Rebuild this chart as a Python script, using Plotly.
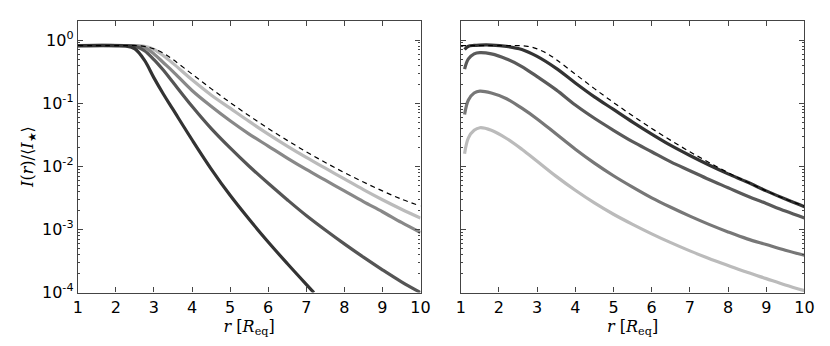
import plotly.graph_objects as go

# radius grids (R_eq) and log10 of I(r)/<I*>
r_left = [1, 2.0, 2.25, 2.5, 2.75, 3, 3.25, 3.5, 4, 4.5, 5, 5.5, 6, 6.5, 7, 7.2]
left_darkest = [-0.088, -0.088, -0.095, -0.14, -0.32, -0.6, -0.86, -1.1, -1.58, -2.04, -2.46, -2.84, -3.2, -3.54, -3.87, -4.0]

r_grid = [1, 2.3, 2.5, 2.75, 3, 3.25, 3.5, 4, 4.5, 5, 5.5, 6, 6.5, 7, 7.5, 8, 8.5, 9, 9.5, 10]
left_dark = [-0.088, -0.088, -0.1, -0.17, -0.31, -0.48, -0.67, -1.05, -1.4, -1.71, -2.0, -2.27, -2.53, -2.78, -3.01, -3.23, -3.44, -3.64, -3.83, -4.0]
left_mid = [-0.088, -0.088, -0.09, -0.12, -0.22, -0.36, -0.5, -0.8, -1.05, -1.28, -1.49, -1.68, -1.87, -2.05, -2.22, -2.39, -2.56, -2.72, -2.89, -3.05]
left_light = [-0.088, -0.088, -0.088, -0.1, -0.15, -0.25, -0.37, -0.63, -0.87, -1.08, -1.29, -1.49, -1.68, -1.86, -2.03, -2.2, -2.37, -2.53, -2.68, -2.82]
dashed = [-0.088, -0.088, -0.088, -0.1, -0.14, -0.21, -0.31, -0.54, -0.77, -0.99, -1.2, -1.4, -1.59, -1.77, -1.94, -2.1, -2.25, -2.39, -2.52, -2.63]

r_right = [1.1, 1.2, 1.35, 1.5, 1.8, 2.2, 2.6, 3, 3.5, 4, 4.5, 5, 5.5, 6, 6.5, 7, 7.5, 8, 8.5, 9, 9.5, 10]
right_darkest = [-0.15, -0.1, -0.085, -0.08, -0.08, -0.1, -0.15, -0.26, -0.45, -0.68, -0.9, -1.1, -1.3, -1.49, -1.67, -1.83, -1.98, -2.12, -2.25, -2.39, -2.52, -2.64]
right_dark = [-0.46, -0.3, -0.22, -0.2, -0.22, -0.3, -0.42, -0.58, -0.79, -1.03, -1.24, -1.43, -1.61, -1.77, -1.93, -2.07, -2.21, -2.34, -2.47, -2.59, -2.71, -2.82]
right_mid = [-1.18, -0.95, -0.84, -0.81, -0.84, -0.93, -1.08, -1.25, -1.49, -1.73, -1.95, -2.15, -2.33, -2.5, -2.65, -2.79, -2.92, -3.04, -3.15, -3.24, -3.33, -3.41]
right_light = [-1.8, -1.55, -1.43, -1.39, -1.43, -1.56, -1.73, -1.92, -2.16, -2.38, -2.58, -2.76, -2.92, -3.07, -3.21, -3.34, -3.46, -3.57, -3.68, -3.78, -3.88, -3.97]

x_ticks = [1, 2, 3, 4, 5, 6, 7, 8, 9, 10]
y_ticks = [1e-4, 1e-3, 1e-2, 1e-1, 1]
y_labels = ["10<sup>-4</sup>", "10<sup>-3</sup>", "10<sup>-2</sup>", "10<sup>-1</sup>", "10<sup>0</sup>"]
y_minor = [m * 10 ** e for e in range(-4, 1) for m in range(2, 10)]


def lin(v):
    return [10 ** a for a in v]


fig = go.Figure()

def add_line(x, logv, color, xa, ya, width=3.2, dash=None):
    fig.add_trace(go.Scatter(
        x=x, y=lin(logv), mode="lines", xaxis=xa, yaxis=ya,
        line=dict(color=color, width=width, dash=dash, shape="spline", smoothing=1),
        showlegend=False, hoverinfo="skip",
    ))

# left panel
add_line(r_grid, left_light, "#bbbbbb", "x", "y")
add_line(r_grid, left_mid, "#888888", "x", "y")
add_line(r_grid, left_dark, "#555555", "x", "y")
add_line(r_left, left_darkest, "#333333", "x", "y")
add_line(r_grid, dashed, "black", "x", "y", width=1.2, dash="5px,4px")

# right panel
add_line(r_right, right_light, "#bbbbbb", "x2", "y2")
add_line(r_right, right_mid, "#777777", "x2", "y2")
add_line(r_right, right_dark, "#5a5a5a", "x2", "y2")
add_line(r_right, right_darkest, "#333333", "x2", "y2")
add_line(r_grid, dashed, "black", "x2", "y2", width=1.2, dash="5px,4px")

tick_font = dict(family="DejaVu Sans", size=16, color="black")
axis_common = dict(
    showline=True, linecolor="#444444", linewidth=1.2, mirror="allticks",
    ticks="inside", ticklen=5, tickcolor="#444444", showgrid=False, zeroline=False,
    tickfont=tick_font,
)
xaxis_common = dict(axis_common, range=[1, 10], tickvals=x_ticks,
                    title=dict(text="<i>r</i> [<i>R</i><sub>eq</sub>]",
                               font=dict(family="DejaVu Serif", size=16, color="black"), standoff=3))
yaxis_common = dict(axis_common, type="log", range=[-4, 0.307], tickvals=y_ticks,
                    ticktext=y_labels,
                    minor=dict(ticks="inside", ticklen=2.5, tickcolor="#444444", tickvals=y_minor))

fig.update_layout(
    width=830, height=346,
    margin=dict(l=0, r=0, t=0, b=0),
    paper_bgcolor="white", plot_bgcolor="white",
    xaxis=dict(xaxis_common, domain=[66 / 830, 415 / 830], anchor="y"),
    yaxis=dict(yaxis_common, domain=[53 / 346, 333 / 346], anchor="x",
               title=dict(text="<i>I</i>(<i>r</i>)/⟨<i>I</i><sub>★</sub>⟩",
                          font=dict(family="DejaVu Serif", size=16, color="black"), standoff=4)),
    xaxis2=dict(xaxis_common, domain=[456 / 830, 806 / 830], anchor="y2"),
    yaxis2=dict(yaxis_common, domain=[53 / 346, 333 / 346], anchor="x2", showticklabels=False),
)

fig.write_html("out.html")
